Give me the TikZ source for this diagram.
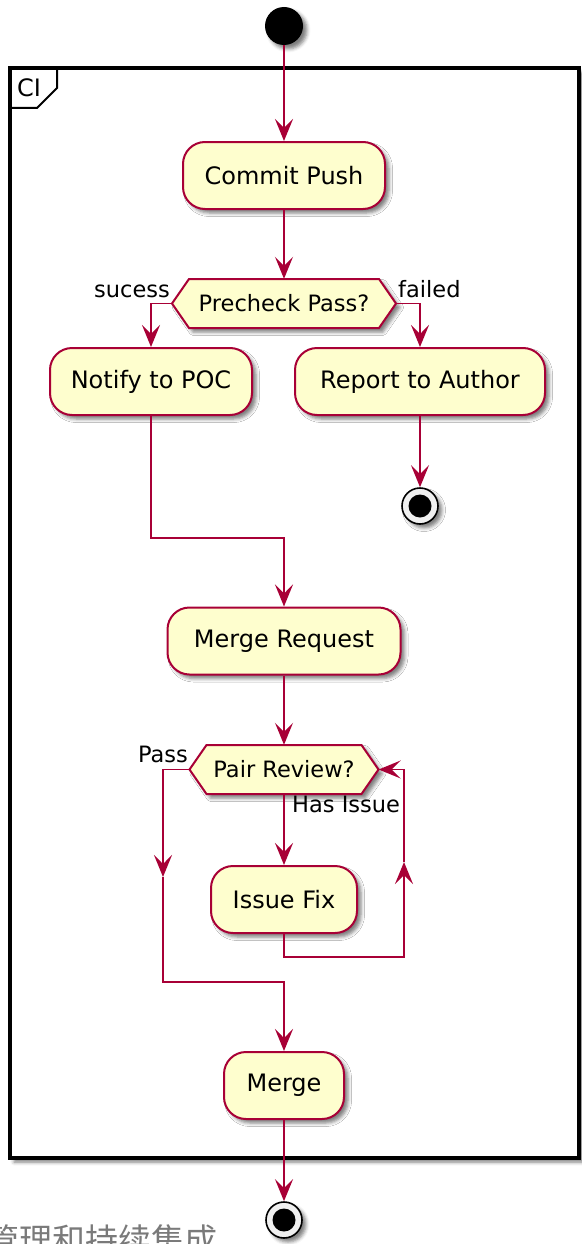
\documentclass[tikz,border=0pt]{standalone}
\usepackage{fontspec}
\setmainfont{DejaVu Sans}
\newfontfamily\cjkfont{Noto Sans CJK SC}
\usetikzlibrary{arrows.meta,shadows.blur}
\definecolor{pred}{HTML}{A80036}
\definecolor{pfill}{HTML}{FEFECE}
\definecolor{capgray}{HTML}{7A7A7A}
\begin{document}
\begin{tikzpicture}[x=1pt,y=-1pt,
  shad/.style={blur shadow={shadow xshift=4pt,shadow yshift=-4pt,shadow blur radius=3.5pt,shadow opacity=50}},
  act/.style={rectangle, rounded corners=22pt, draw=pred, line width=2pt, fill=pfill, shad,
    font=\fontsize{24}{28}\selectfont, inner sep=0pt, minimum height=67pt},
  hexnode/.style={rectangle, draw=none, inner sep=0pt, minimum height=49pt, font=\fontsize{22.5}{26}\selectfont},
  hexdraw/.style={draw=pred, line width=2pt, fill=pfill, shad, line join=miter},
  flow/.style={draw=pred, line width=1.8pt, -{Stealth[length=22pt,width=18pt,inset=9pt]}},
  lbl/.style={font=\fontsize{22.5}{26}\selectfont, inner sep=0pt},
  startnode/.style={circle, fill=black, minimum size=38pt, inner sep=0pt, shad},
  endnode/.style={circle, draw=black, line width=1.6pt, fill=gray!12, minimum size=36pt, inner sep=0pt, shad},
  enddot/.style={circle, fill=black, minimum size=23pt, inner sep=0pt},
]
\useasboundingbox (0,0) rectangle (581,1244);

% frame
\filldraw[fill=white, draw=black, line width=3.5pt, shad] (10,68) rectangle (579,1158);
\draw[line width=2pt, line join=miter] (10,68) -- (57,68) -- (57,88) -- (37,108) -- (10,108);
\node[font=\fontsize{24}{28}\selectfont, inner sep=0pt] (ci) at (29,88) {CI};

% hexagon outlines (drawn under their text nodes)
\draw[hexdraw] (172,303.5) -- (189,279) -- (379,279) -- (396,303.5) -- (379,328) -- (189,328) -- cycle;
\draw[hexdraw] (189.5,769.5) -- (206.5,745) -- (361.5,745) -- (378.5,769.5) -- (361.5,794) -- (206.5,794) -- cycle;

% nodes
\node[startnode] (start) at (284,26) {};
\node[act, minimum width=202pt] (commit) at (284,175.5) {Commit Push};
\node[hexnode, minimum width=224pt] (hex1) at (284,303.5) {Precheck Pass?};
\node[act, minimum width=202pt] (notify) at (151,381.5) {Notify to POC};
\node[act, minimum width=250pt] (report) at (420,381.5) {Report to Author};
\node[endnode] (end1) at (420,506) {};
\node[enddot] (end1dot) at (end1) {};
\node[act, minimum width=233pt] (mr) at (284,641) {Merge Request};
\node[hexnode, minimum width=189pt] (hex2) at (284,769.5) {Pair Review?};
\node[act, minimum width=146pt] (fix) at (284,899.5) {Issue Fix};
\node[act, minimum width=120pt] (merge) at (284,1085.5) {Merge};
\node[endnode] (end2) at (284,1220) {};
\node[enddot] (end2dot) at (end2) {};

% labels
\node[lbl, anchor=base east] (lsuc) at (170,297) {sucess};
\node[lbl, anchor=base west] (lfail) at (398,297) {failed};
\node[lbl, anchor=base east] (lpass) at (188,762) {Pass};
\node[lbl, anchor=base west] (lissue) at (292,812) {Has Issue};

% coordinates
\coordinate (j1) at (151,538);
\coordinate (pA) at (163,769.5);
\coordinate (pM) at (163,877);
\coordinate (pB) at (163,982);
\coordinate (lA) at (284,957);
\coordinate (lB) at (404,957);
\coordinate (lM) at (404,862);
\coordinate (lC) at (404,769.5);

% connectors
\draw[flow] (start.south) -- (commit.north);
\draw[flow] (commit.south) -- (hex1.north);
\draw[flow] (hex1.west) -| (notify.north);
\draw[flow] (hex1.east) -| (report.north);
\draw[flow] (report.south) -- (end1.north);
\draw[flow] (notify.south) -- (j1) -| (mr.north);
\draw[flow] (mr.south) -- (hex2.north);
\draw[flow] (hex2.south) -- (fix.north);
\draw[flow] (hex2.west) -- (pA) -- (pM);
\draw[flow] (pM) -- (pB) -| (merge.north);
\draw[flow] (fix.south) -- (lA) -- (lB) -- (lM);
\draw[flow] (lM) -- (lC) -- (hex2.east);
\draw[flow] (merge.south) -- (end2.north);

% cropped caption
\begin{scope}
\clip (0,0) rectangle (581,1244);
\node[anchor=base west, inner sep=0pt, text=capgray, font=\cjkfont\fontsize{33}{36}\selectfont] (caption) at (-14,1252) {管理和持续集成};
\end{scope}
\end{tikzpicture}
\end{document}
